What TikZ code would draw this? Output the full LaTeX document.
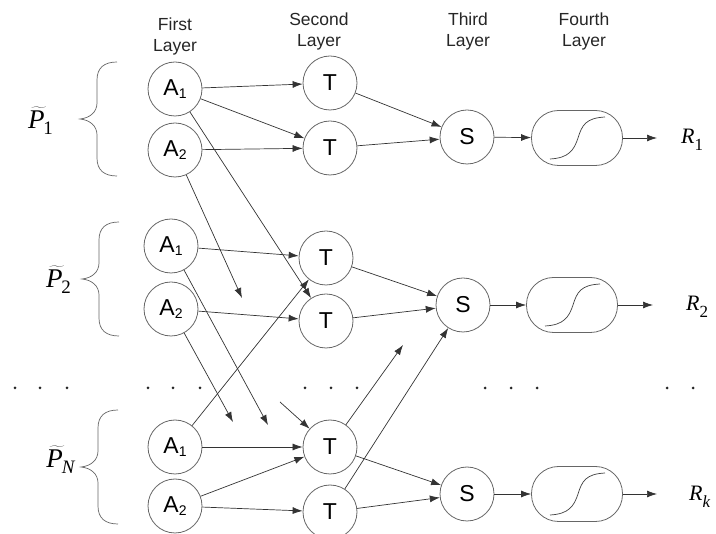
\documentclass[tikz,border=0pt]{standalone}
\usepackage{fontspec}
\setmainfont{Liberation Sans}
\newfontfamily\serifrm{Liberation Serif}
\usetikzlibrary{arrows.meta}
\newcommand\lsub[1]{\raisebox{-0.3ex}{\fontsize{14}{14}\selectfont #1}}
\newcommand\ptil[1]{{\fontsize{27}{27}\selectfont$\widetilde{\hbox{\kern1pt\serifrm\itshape P\kern6pt}}$\kern-7pt\raisebox{-0.25em}{\serifrm\fontsize{19}{19}\selectfont #1}}}
\newcommand\rlab[1]{{\serifrm\fontsize{22}{22}\selectfont{\itshape R}\raisebox{-0.3em}{\fontsize{17}{17}\selectfont #1}}}
\tikzset{
  lbrace/.pic={\draw[draw=black!60,line width=0.7pt] (37,-57) .. controls (24,-57) and (17,-51) .. (17,-39) -- (17,-16) .. controls (17,-7) and (10,-1) .. (0,0) .. controls (10,1) and (17,7) .. (17,16) -- (17,39) .. controls (17,51) and (24,57) .. (37,57);},
  sigm/.pic={\draw[draw=black!75,line width=0.7pt] (-27,21) .. controls (-8,20) and (-3,12) .. (1,0) .. controls (5,-13) and (9,-20) .. (28,-21);}
}
\begin{document}
\begin{tikzpicture}[x=1pt,y=-1pt,
  neuron/.style={circle,draw=black!60,line width=0.8pt,minimum size=54pt,inner sep=0pt,font=\fontsize{23}{23}\selectfont},
  fbox/.style={draw=black!60,line width=0.8pt,rounded corners=27pt,minimum width=91pt,minimum height=55pt,inner sep=0pt},
  conn/.style={draw=black!80,line width=0.7pt,-{Latex[length=10pt,width=7pt]}},
  hdr/.style={align=center,font=\fontsize{17.5}{21}\selectfont,text=black!85},
  dot/.style={fill=black!85}
  ]
\useasboundingbox (0,0) rectangle (716,534);

% headers
\node[hdr] (h1) at (175,36) {First\\Layer};
\node[hdr] (h2) at (319,31) {Second\\Layer};
\node[hdr] (h3) at (468,31) {Third\\Layer};
\node[hdr] (h4) at (584,31) {Fourth\\Layer};

% first layer
\node[neuron] (A11) at (175,89) {A\lsub{1}};
\node[neuron] (A12) at (175,150) {A\lsub{2}};
\node[neuron] (A21) at (171,246) {A\lsub{1}};
\node[neuron] (A22) at (171,309) {A\lsub{2}};
\node[neuron] (AN1) at (175,447) {A\lsub{1}};
\node[neuron] (AN2) at (175,506) {A\lsub{2}};

% second layer
\node[neuron] (T11) at (330,83) {T};
\node[neuron] (T12) at (330,148) {T};
\node[neuron] (T21) at (326,258) {T};
\node[neuron] (T22) at (326,321) {T};
\node[neuron] (TN1) at (330,447) {T};
\node[neuron] (TN2) at (330,512) {T};

% third layer
\node[neuron] (S1) at (467,137) {S};
\node[neuron] (S2) at (463,305) {S};
\node[neuron] (S3) at (467,494) {S};

% fourth layer
\node[fbox] (F1) at (577,138) {};
\node[fbox] (F2) at (572,305) {};
\node[fbox] (F3) at (577,494) {};
\pic at (F1.center) {sigm};
\pic at (F2.center) {sigm};
\pic at (F3.center) {sigm};

% free ends
\coordinate (e1) at (242,298);
\coordinate (e2) at (233,422);
\coordinate (e3) at (268,425);
\coordinate (e4) at (280,402);
\coordinate (e5) at (403,345);
\coordinate (o1) at (657,138);
\coordinate (o2) at (653,305);
\coordinate (o3) at (657,494);

% outputs
\node[anchor=west,inner sep=0pt] (R1) at (681,140) {\rlab{1}};
\node[anchor=west,inner sep=0pt] (R2) at (686,307) {\rlab{2}};
\node[anchor=west,inner sep=0pt] (R3) at (689,497) {\rlab{\itshape k}};

% inputs
\node (P1) at (40,121) {\ptil{1}};
\node (P2) at (58,280) {\ptil{2}};
\node (P3) at (60,460) {\ptil{\itshape N}};
\pic at (80,119) {lbrace};
\pic at (82,279) {lbrace};
\pic at (81,467) {lbrace};

% connectors layer 1 -> 2
\draw[conn] (A11) -- (T11);
\draw[conn] (A11) -- (T12);
\draw[conn] (A12) -- (T12);
\draw[conn] (A11) -- (T22);
\draw[conn] (A12) -- (e1);
\draw[conn] (A21) -- (T21);
\draw[conn] (A22) -- (T22);
\draw[conn] (A21) -- (e3);
\draw[conn] (A22) -- (e2);
\draw[conn] (AN1) -- (T21);
\draw[conn] (AN1) -- (TN1);
\draw[conn] (AN2) -- (TN1);
\draw[conn] (AN2) -- (TN2);
\draw[conn] (e4) -- (TN1);

% layer 2 -> 3
\draw[conn] (T11) -- (S1);
\draw[conn] (T12) -- (S1);
\draw[conn] (T21) -- (S2);
\draw[conn] (T22) -- (S2);
\draw[conn] (TN1) -- (S3);
\draw[conn] (TN2) -- (S3);
\draw[conn] (TN1) -- (e5);
\draw[conn] (TN2) -- (S2);

% layer 3 -> 4 -> out
\draw[conn] (S1) -- (F1);
\draw[conn] (S2) -- (F2);
\draw[conn] (S3) -- (F3);
\draw[conn] (F1) -- (o1);
\draw[conn] (F2) -- (o2);
\draw[conn] (F3) -- (o3);

% dots
\foreach \x in {15,40,67,148,173,200,305,331,357,485,511,537,667,693,718}
  \fill[dot] (\x,388) circle (1.5);
\end{tikzpicture}
\end{document}
